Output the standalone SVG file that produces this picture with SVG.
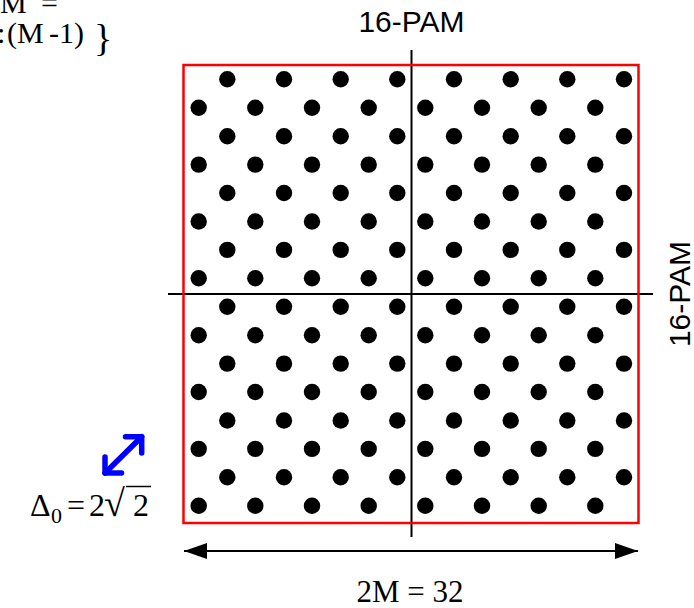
<svg xmlns="http://www.w3.org/2000/svg" width="694" height="608" viewBox="0 0 694 608">
<defs>
<style>
.serif{font-family:"Liberation Serif","Times New Roman",serif;fill:#000}
.sans{font-family:"Liberation Sans",Arial,sans-serif;fill:#000;font-size:30px}
.axis{stroke:#000;stroke-width:2;fill:none}
.dot{fill:#000}
</style>
<marker id="ah" viewBox="0 0 23 16" refX="23" refY="8" markerWidth="23" markerHeight="16" markerUnits="userSpaceOnUse" orient="auto-start-reverse">
<path d="M0,0 L23,8 L0,16 Z" fill="#000"/>
</marker>
<circle id="d" r="8.2" class="dot"/>
<g id="row-even">
<use href="#d" x="227.3" y="0"/><use href="#d" x="284" y="0"/><use href="#d" x="340.7" y="0"/><use href="#d" x="397.3" y="0"/>
<use href="#d" x="454" y="0"/><use href="#d" x="510.7" y="0"/><use href="#d" x="567.3" y="0"/><use href="#d" x="624" y="0"/>
</g>
<g id="row-odd">
<use href="#d" x="198.7" y="0"/><use href="#d" x="255.3" y="0"/><use href="#d" x="312" y="0"/><use href="#d" x="368.7" y="0"/>
<use href="#d" x="425.3" y="0"/><use href="#d" x="482" y="0"/><use href="#d" x="538.7" y="0"/><use href="#d" x="595.3" y="0"/>
</g>
</defs>
<rect width="694" height="608" fill="#fff"/>

<g id="formula-top">
<text class="serif" font-size="30" y="13"><tspan x="0">M</tspan><tspan x="41">=</tspan></text>
<text class="serif" font-size="30" y="43"><tspan x="-3">:</tspan><tspan x="7">(M</tspan><tspan x="49">-</tspan><tspan x="59">1)</tspan></text>
<text class="serif" font-size="38" x="94" y="51">}</text>
</g>

<g id="connectors">
<line class="axis" x1="168" y1="294" x2="653" y2="294"/>
<line class="axis" x1="411.5" y1="50" x2="411.5" y2="537"/>
<line x1="184" y1="551" x2="638" y2="551" stroke="#000" stroke-width="2" marker-start="url(#ah)" marker-end="url(#ah)"/>
</g>

<g id="frame">
<rect x="183.5" y="65" width="455" height="458" fill="none" stroke="#ff0000" stroke-width="2.5"/>
</g>

<g id="constellation">
<use href="#row-even" y="79.3"/>
<use href="#row-odd" y="107.7"/>
<use href="#row-even" y="136.2"/>
<use href="#row-odd" y="164.6"/>
<use href="#row-even" y="193"/>
<use href="#row-odd" y="221.5"/>
<use href="#row-even" y="249.9"/>
<use href="#row-odd" y="278.3"/>
<use href="#row-even" y="306.7"/>
<use href="#row-odd" y="335.2"/>
<use href="#row-even" y="363.6"/>
<use href="#row-odd" y="392"/>
<use href="#row-even" y="420.5"/>
<use href="#row-odd" y="448.9"/>
<use href="#row-even" y="477.3"/>
<use href="#row-odd" y="505.8"/>
</g>

<g id="label-top">
<text class="sans" x="411.5" y="31.5" text-anchor="middle">16-PAM</text>
</g>
<g id="label-right">
<text class="sans" transform="translate(690,294) rotate(-90)" text-anchor="middle">16-PAM</text>
</g>

<g id="delta">
<g stroke="#0000ff" stroke-width="5.5" stroke-linecap="round" stroke-linejoin="round" fill="none">
<line x1="105" y1="473" x2="141.7" y2="436.7"/>
<polyline points="105,457 105,473 121.5,473"/>
<polyline points="125.5,436.7 141.7,436.7 141.7,453"/>
</g>
<text class="serif" font-size="32" y="516"><tspan x="30">Δ</tspan><tspan x="51" y="523" font-size="22">0</tspan><tspan x="67" y="516">=</tspan><tspan x="89">2</tspan><tspan x="104" font-size="38">√</tspan><tspan x="133">2</tspan></text>
<line x1="126" y1="486.5" x2="151" y2="486.5" stroke="#000" stroke-width="1.5"/>
</g>

<g id="width-label">
<text class="serif" font-size="31" x="410" y="602" text-anchor="middle">2M = 32</text>
</g>
</svg>
